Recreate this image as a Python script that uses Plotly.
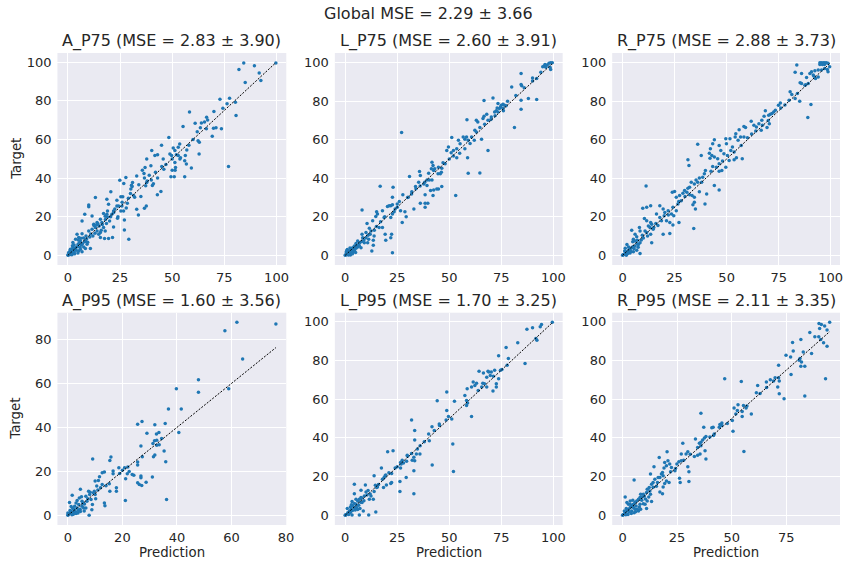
import plotly.graph_objects as go

FIG_TITLE = "Global MSE = 2.29 ± 3.66"
PANEL_NAMES = ["A_P75", "L_P75", "R_P75", "A_P95", "L_P95", "R_P95"]
PANEL_MSE = ["2.83 ± 3.90", "2.60 ± 3.91", "2.88 ± 3.73",
             "1.60 ± 3.56", "1.70 ± 3.25", "2.11 ± 3.35"]
X_LABEL = "Prediction"
Y_LABEL = "Target"

# (prediction, target) pairs
A_P75 = [
    (99.7, 99.5), (84.3, 99.5), (89.4, 98.1), (82, 96.2), (91.7, 94.3), (92.5, 90.5), (85, 89.4),
    (72.9, 80.8), (77.5, 81.3), (76.3, 78.4), (80.3, 79.2), (74.3, 76.1), (80.6, 72.3), (70, 74.4),
    (58.3, 74.2), (66.5, 71.5), (67, 70), (65.5, 69), (64, 68.5), (61, 68.3), (63.5, 66), (66.4, 65.5),
    (69.8, 65.7), (73.6, 65.5), (69.2, 61.6), (71, 66), (62.4, 59.3), (63, 58.5), (62.9, 52.4),
    (55.2, 66.6), (48.4, 61), (44.9, 57), (53.6, 57.6), (52.9, 55.9), (50.5, 55.5), (51.3, 54.2),
    (48.9, 52.4), (49.7, 51.6), (52, 52), (52.9, 51.6), (50, 49.8), (53.7, 49.8), (56.3, 51.6),
    (56, 49), (56.8, 47.2), (59.2, 45.2), (77, 46), (56, 40.7), (49.4, 40.7), (51, 40.7), (50, 44),
    (51.4, 44), (51.6, 45.5), (51.3, 48), (45.7, 49.8), (40.2, 54.2), (41.7, 51.6), (43, 52),
    (37.8, 49.8), (39.8, 46.4), (35.7, 44), (37, 45.5), (36.5, 42.4), (36.7, 40), (37.8, 37.7),
    (40.5, 36.2), (37.3, 36), (44.6, 33), (42.9, 31.3), (37.6, 25.6), (36.7, 24.4), (33, 23.9),
    (33.8, 20.9), (30.5, 36.3), (30.8, 35.6), (30.2, 34.3), (31, 37.7), (27.8, 40.3), (24.9, 38.9),
    (26.8, 37.2), (25.4, 30.3), (26.3, 30.3), (23.5, 28.5), (23.5, 25.6), (24.3, 25.6), (25.9, 25.6),
    (25.4, 23), (26.7, 23), (27.1, 18.3), (27.1, 13.1), (29.2, 8.3), (19.5, 26.5), (19, 23),
    (18.7, 21.3), (21.1, 21.3), (21.9, 23), (21.9, 14.7), (21.4, 9.2), (23.8, 19.2), (20, 17.8),
    (20.6, 32.9), (18.7, 29), (13.2, 29.9), (10, 26.1), (10, 25.1), (8.1, 21.3), (6.8, 17.8),
    (11.6, 20.4), (14, 17), (14.4, 16.4), (12.4, 16.1), (15.6, 18.7), (17.1, 21.6), (17.9, 20.2),
    (16.3, 17), (17.1, 14.4), (17.9, 12.6), (15.6, 9.2), (17.6, 8.7), (19.5, 8.7), (10.8, 3.6),
    (8.4, 7.4), (8.7, 10), (6.8, 11.2), (10, 12.6), (13.2, 14.4), (11.6, 13.5), (14, 12.6),
    (14.8, 10.9), (15.6, 11.8), (4.4, 10.9), (5.2, 9.2), (6, 7.4), (3.7, 8.3), (2.4, 6.6), (3, 5.4),
    (3.7, 4), (4.9, 5.7), (6.5, 5.4), (7.6, 4.3), (8.4, 3.6), (9.2, 5.7), (2.1, 3.1), (1, 2.2),
    (1.3, 1.4), (0.5, 0.5), (1.7, 0.9), (2.9, 1.9), (4, 2.6), (5.2, 2.2), (6, 3.1), (6.8, 1.9),
    (2.4, 4), (0, 0.2), (0.2, 0), (12.5, 15.5), (13.8, 15.8), (15, 15.2), (16.5, 16), (18, 18.5),
    (19, 19.8), (20.5, 20), (22, 22.2), (7.5, 9), (9, 8.5), (10.5, 9.5), (11, 11), (5.5, 6.5),
    (4.5, 4.5), (3.5, 3), (2.8, 2.5), (1.5, 1.8), (0.8, 1.2), (1.9, 0.3), (3.2, 0.8), (4.8, 1.2),
    (7, 6), (8, 7), (9.5, 6.8), (12, 10), (13, 11.5), (16, 13), (18.5, 16.5), (6.2, 8.8), (5, 8),
    (30, 32), (32, 30), (34, 36.5), (28.5, 27), (29, 29.5), (22.5, 24), (24, 20), (33, 41),
    (40, 39), (42, 43), (45, 46), (47, 47), (38, 38.5), (43, 40), (41, 37), (60, 60), (58, 57),
    (62, 64), (57, 54.5), (46, 44.5), (54, 50.5), (35, 30.5), (39, 41.5), (31.5, 31), (26, 27.5),
    (28, 24.5), (3, 1.2), (5.8, 4.2), (1.2, 3.2), (2.2, 5), (0.4, 1.5), (1.1, 0.4), (2.5, 1.2),
]

L_P75 = [
    (95.6, 98.3), (97.1, 98.8), (97.9, 99.7), (98.7, 100), (99.5, 100), (96.4, 97.6), (98.4, 97.6),
    (98.7, 96.5), (94.9, 97.9), (96, 99), (92, 91.8), (90, 92), (84.5, 94.4), (84.5, 88.7),
    (84.8, 88), (80, 87.3), (88, 81.4), (92, 80.9), (84.5, 80.5), (84.5, 75.8), (81.3, 66.3),
    (71, 81.7), (66.7, 80.3), (73.4, 78.8), (75, 77.9), (75.8, 78.4), (76.5, 77.9), (77.3, 77.6),
    (74.6, 77), (73, 76.5), (74.1, 76.2), (75.8, 76.2), (72.6, 75), (73.4, 74.4), (71.8, 74.4),
    (70.2, 71.8), (68.6, 70.1), (66.7, 72.2), (66.2, 71), (68, 73.2), (63, 70.1), (63.7, 69.2),
    (64.7, 66.3), (58.5, 70.4), (62.3, 64.9), (60.7, 61.4), (62, 59.7), (65.5, 60.2), (68.6, 54.4),
    (58.3, 61.4), (59.1, 59.7), (57.5, 60.2), (56.7, 61.4), (51.2, 61.2), (54.4, 59.7), (55.2, 57.9),
    (57.5, 55.3), (58.8, 50.6), (53.6, 55.3), (52, 54.4), (49.6, 56.2), (50.9, 53.2), (53.6, 50.6),
    (48.8, 54.4), (48, 47.5), (44.8, 45.7), (46.4, 45.2), (41.7, 48.3), (42.2, 46.6), (41.4, 44.9),
    (42.5, 44), (44.6, 42.3), (45.7, 42.3), (46.2, 43.1), (59.1, 42.6), (64.7, 42.8), (53.1, 31),
    (40.1, 42.6), (35.7, 43.5), (36.1, 41.4), (39.3, 39.1), (40.4, 39.1), (41.7, 39.1), (38.2, 37.9),
    (37.8, 37), (35.3, 37.9), (33.8, 35.7), (39.3, 36.2), (46.4, 35.7), (44, 34.4), (44.8, 34.4),
    (42.5, 33.9), (41, 33.6), (42.2, 31), (38.4, 31.5), (36.1, 27), (38.4, 27), (39.7, 27),
    (38.4, 24.9), (31.9, 31.8), (30.9, 40.9), (30.3, 30.1), (27.7, 31.5), (33, 24), (27.1, 63.7),
    (16.8, 35.8), (23, 35.3), (22.7, 30.1), (21.9, 25.7), (20.3, 25.4), (21.1, 25.7), (22.7, 26.3),
    (23.5, 22.6), (25, 26.6), (26.6, 23.1), (28.7, 22.6), (29.3, 20), (27.4, 17), (22.7, 21.4),
    (21.9, 19.7), (18.7, 19.7), (17.9, 23.1), (15.1, 22.6), (15.5, 21.4), (14.7, 20.2), (8.1, 23.5),
    (10.5, 16.5), (13.2, 17.9), (16.3, 14.4), (17.9, 14.4), (19.2, 11), (19.5, 7.8), (22.3, 11),
    (21.9, 9.2), (22.7, 1.4), (11.6, 14.1), (12.4, 12.7), (10, 11.8), (13.9, 10.1), (13.5, 7.8),
    (13.5, 5.2), (12.8, 2.3), (10.8, 6.6), (8.4, 9.2), (8.1, 11), (6, 7.5), (6.5, 5.4), (7.6, 4),
    (5.2, 6.1), (4.4, 4.9), (3.6, 4), (2.9, 3.1), (2.1, 2.3), (1.3, 1.4), (0.5, 0.5), (0.2, 0.2),
    (1, 3.1), (2.9, 1.2), (3.6, 1.9), (4.4, 2.6), (5.2, 3.7), (6, 4.3), (6.8, 4.9), (1.7, 0.5),
    (2.5, 0.2), (0, 0), (0.5, 1.7), (9.2, 6.6), (10, 9.2), (11.3, 8.3), (30, 30), (32, 33),
    (34, 34.5), (36, 36), (25, 25), (26, 28), (24, 24), (19, 20), (17, 17.5), (15, 15), (14, 13),
    (12, 11), (9, 8), (7, 6.5), (5.5, 5), (3, 2.5), (2, 1.5), (1, 0.8), (4, 3.5), (8, 7.2),
    (11, 10.5), (50, 50), (52, 51.5), (55, 53), (47, 48), (43, 45), (60, 58), (63, 64), (67, 68),
    (70, 70.5), (78, 80), (82, 83), (86, 87), (90, 90.5), (94, 95), (76, 75), (72, 72.5),
    (1.5, 0.2), (3.5, 0.8), (5, 1.5), (0.8, 2.5), (2.3, 3.8),
]

R_P75 = [
    (94.8, 100), (95.5, 100), (96.4, 100), (97.1, 100), (97.9, 100), (98.7, 99.7), (94.8, 99),
    (96, 99), (97, 99), (99.5, 97.9), (94, 96.2), (95.6, 96.2), (97.1, 97), (98.4, 96.5),
    (98.7, 95.3), (92.4, 95.8), (90.8, 95.3), (90, 94.4), (86, 94.4), (83.7, 98.8), (82.9, 95),
    (91.6, 93.6), (92.7, 91.8), (94, 92.5), (88.4, 92.3), (86, 89.2), (87.6, 88.3), (89.2, 89.2),
    (85.3, 89.6), (80.5, 84.9), (81.3, 83.5), (84, 84), (85.1, 80), (90.5, 78.3), (89, 71.5),
    (82.9, 81.4), (75.8, 79.1), (74.9, 77.9), (73.4, 75.3), (72.6, 74.4), (71.8, 73.6), (71, 73.2),
    (70.2, 72.7), (68.6, 75), (68, 72.2), (66.9, 70.1), (65.5, 68.3), (64.3, 66.6), (67.2, 67.5),
    (66.6, 64.9), (69.4, 66.3), (70.5, 68.3), (63.1, 67.5), (61.8, 69.6), (59.1, 66.3), (58.3, 66.9),
    (56, 65.2), (54.4, 63.1), (54.1, 61.4), (55.5, 59.7), (56.7, 61.4), (58.3, 61.4), (51.6, 60.5),
    (49.6, 60.5), (49.9, 57.9), (52.8, 56.2), (52, 54.4), (53.6, 53.6), (54.7, 50.6), (57.5, 50.1),
    (53.6, 49.6), (51.2, 49.2), (50.4, 51.8), (48.7, 52.7), (47.2, 54.4), (46.4, 57), (44.1, 60),
    (43.3, 57.9), (42.2, 55.3), (41.7, 53), (42.9, 51.8), (44.1, 51), (42, 50.4), (45.7, 50.1),
    (46.4, 47.5), (45.1, 45.7), (43.3, 46.1), (42.5, 43.7), (46.4, 43.7), (47.7, 44), (49.6, 45.7),
    (36.1, 57.6), (37.8, 51.8), (31.4, 49.6), (31.9, 46.6), (39.8, 44), (39.3, 42.3), (38.5, 40.5),
    (36.9, 40.2), (35.3, 39.1), (36.1, 37.9), (34.5, 37), (33, 37.9), (32.2, 35.3), (31.4, 34.8),
    (29.8, 33.6), (29, 32.2), (30.9, 32.7), (32.2, 31.5), (33.4, 31), (34.5, 30.1), (36.9, 33),
    (40.4, 31.8), (44.1, 36.2), (46.4, 33.9), (39.6, 26.6), (34.5, 27.5), (33.8, 26.3), (35, 24),
    (34.2, 13.9), (25, 33.2), (23.9, 32.7), (25.8, 30.1), (27.4, 31), (28.2, 28.3), (26.6, 26.6),
    (24.2, 24.9), (25.8, 23.1), (24.6, 20.5), (23.5, 21.4), (21.9, 23.1), (20.3, 22.3), (19.5, 24),
    (17.9, 25.7), (16.3, 21.4), (17.9, 19.7), (18.7, 17.9), (21.1, 17.9), (22.7, 17), (24.2, 15.7),
    (27.1, 17), (19.5, 11), (22.7, 11.3), (11.3, 36), (9.7, 24.5), (11.6, 24.9), (13.5, 25.7),
    (10.5, 19.1), (11.6, 17.9), (13.5, 17), (14, 16.2), (12.4, 15.3), (13.2, 14.4), (14.7, 13.6),
    (10.8, 12.7), (11.6, 11.8), (13.5, 11), (14, 6.6), (8.1, 14.4), (8.4, 12.7), (4.4, 13), (6, 11),
    (6.8, 9.6), (5.2, 8.3), (4.9, 7), (6, 7.5), (7.1, 7.8), (7.6, 5.7), (8.4, 6.6), (6, 4.9),
    (4.4, 4), (3.6, 3.1), (2.9, 2.3), (2.1, 1.4), (1.3, 0.9), (0.5, 0.5), (0.2, 0.2), (2.1, 5.7),
    (2.9, 4.3), (1.3, 3.7), (8.4, 1), (6.8, 2.6), (5.2, 1.9), (3.6, 1.2), (1, 2.3), (0, 0), (1.8, 0),
    (60, 61), (62, 63), (64, 64.5), (76, 76.5), (78, 78), (88, 88.5), (57, 57), (48, 49), (38, 38),
    (30, 30.5), (27, 28), (20, 20.5), (16, 16.5), (15, 14.5), (12, 10), (10, 9), (9, 8), (7, 6),
    (5, 4.5), (3, 2.8), (2.5, 1), (1.5, 2), (4, 2), (5.5, 3.5), (7.5, 4.2), (9.5, 10.5), (17, 15.5),
    (22, 21), (70, 70), (80, 80.5), (92, 93),
]

A_P95 = [
    (76.3, 87), (62, 87.8), (57.6, 84), (64.1, 71.1), (47.9, 61.7), (47.9, 56), (39.8, 57.6),
    (59, 57.6), (36.9, 48.4), (41.6, 48.4), (35.7, 41.8), (40.7, 37.7), (25.6, 41.5), (27.2, 42.7),
    (31.9, 41.2), (29, 37.3), (33.4, 37.7), (32.5, 37), (34.4, 35), (31.8, 33.9), (32.6, 34.2),
    (31.2, 32.7), (32.6, 31.9), (33.5, 32.1), (26.8, 31.6), (35.3, 29.3), (31.9, 27.5), (31.4, 26.7),
    (27.3, 26.7), (25.6, 24.3), (25.6, 22.9), (35.9, 24.4), (24.2, 18.2), (26.8, 17.9), (26.8, 17.1),
    (28.7, 15.1), (26.2, 14), (27.1, 13.6), (25.6, 14.8), (31, 17.4), (21.2, 16.6), (23.6, 18.6),
    (20.8, 21.7), (22, 22), (21.8, 18.9), (18.7, 21.7), (16.6, 20.2), (16.6, 18.9), (15.8, 26.6),
    (15.4, 25), (12.6, 19.4), (13.4, 19.7), (11.6, 17.6), (11.2, 15.9), (10, 15.6), (10.6, 13.3),
    (12.6, 14), (15.4, 11), (17.8, 12.5), (17.8, 11), (15.2, 14.4), (13.4, 5.6), (13.6, 4.4),
    (21.1, 6.7), (36.2, 7.2), (9.1, 25.6), (9.7, 11), (10, 9.5), (9.4, 10.2), (7.6, 11), (6.6, 8.7),
    (7.3, 7.6), (8.5, 7.2), (8.8, 2.6), (7.8, 0), (6.1, 5.2), (5.2, 6.4), (4.6, 11.9), (4.2, 7.9),
    (3.4, 6.7), (4, 4.9), (5.2, 4.1), (5.8, 3.4), (6.6, 3.4), (3, 5.6), (2.5, 4.1), (1.8, 3.1),
    (0.6, 5.8), (1.6, 9.2), (1.3, 1.8), (2.2, 1.5), (1, 1.1), (0.4, 0.6), (0.1, 0.3), (2.8, 1.5),
    (3.7, 1.1), (4.6, 1.8), (2.5, 2.6), (3.4, 3.4), (0, 1.1), (0, 0), (7, 6.4), (9, 4.9), (10.2, 7.6),
    (2, 0.5), (3, 0.8), (1.5, 0.3), (4.5, 2.8), (5.5, 5.5), (6, 2), (8, 9.5), (11, 11.5), (12, 12.5),
    (14, 13.5), (19, 19), (20, 20.5), (22.5, 20), (3.8, 2.2), (0.8, 2.2), (1.2, 4), (8.2, 10.5),
    (5, 8.5),
]

L_P95 = [
    (99.5, 99.7), (94.3, 98.6), (93.7, 97.4), (90, 96.9), (87.3, 96.2), (91.6, 91.3), (92.1, 90.5),
    (82.9, 89.1), (77.3, 86.7), (73.7, 82.4), (78.4, 81), (77.8, 77.5), (86.4, 78.4), (75.3, 75.4),
    (74.6, 74.9), (71.8, 74.9), (70.2, 74), (69, 74), (68.6, 74.4), (64.3, 74.4), (69.7, 72.3),
    (71.2, 71.8), (73.7, 70.6), (68, 71.4), (66.4, 73.5), (66.1, 68.3), (66.9, 68), (68, 66.3),
    (65.6, 66.3), (63.9, 64.5), (62.3, 67.1), (61.5, 68.9), (63.1, 68.3), (60.7, 66.3), (58.6, 65.4),
    (72.6, 68), (72.6, 66.3), (71, 64.2), (57.5, 61.9), (58.3, 59.3), (58.8, 58), (58.3, 56.8),
    (52.5, 59), (48.8, 63.7), (44.2, 59.2), (48.8, 54.2), (49.6, 51), (51.2, 49.8), (48.5, 49.3),
    (60.7, 51), (45.2, 47.2), (45.3, 46.4), (42.8, 43.8), (41.7, 45.8), (40.1, 42), (40.4, 38.6),
    (33.4, 43.8), (31.9, 49.3), (33.4, 38.9), (51.7, 36.9), (52, 22.7), (41.8, 26), (34.7, 34.3),
    (35.9, 31.7), (34.2, 31.7), (33, 30), (32.2, 28.5), (33.4, 28.2), (31.9, 32), (29.8, 31.1),
    (29.5, 27.9), (33, 23), (27.4, 28.5), (26.6, 27.3), (26.9, 26.5), (25, 25.1), (26.6, 24.4),
    (26.3, 17.5), (26.3, 12.3), (29.3, 19.6), (33, 11.2), (23, 33.4), (20.4, 32.9), (22.3, 21.6),
    (22.3, 17), (21.9, 16.4), (19.5, 20.8), (19.2, 20.4), (18.7, 19.6), (17.9, 18.7), (17.4, 24.4),
    (18.4, 14.4), (19.8, 15.7), (15.5, 14.7), (15.1, 14.4), (13.9, 20.4), (13.9, 12.3), (11.6, 8.3),
    (13.5, 8.3), (12.4, 10), (10, 12.1), (9.7, 15.7), (7.6, 13), (9.2, 10), (7.6, 9.2), (6.8, 8.3),
    (5.2, 8.3), (4.4, 16.1), (4.4, 11.2), (6, 7.4), (5.2, 5.7), (4.4, 4), (6.5, 5.2), (8.1, 6.6),
    (8.7, 2.2), (11.3, 0.2), (14.7, 1.7), (6.8, 0.2), (3.3, 0.2), (2.9, 3.1), (2.1, 2.2), (2.5, 4.3),
    (1.3, 1.4), (0.5, 0.5), (0.2, 0.2), (1, 3.6), (3.6, 4.8), (4.4, 6.1), (3.3, 7.1), (1.7, 0.5),
    (0, 0), (5.5, 4), (7.1, 3.6), (8, 9), (9, 7.5), (10.5, 10.5), (12, 11), (14.5, 15.5), (16, 16),
    (21, 22), (24, 24.5), (28, 27), (30, 30.5), (36, 36), (38, 38), (1.5, 1), (2.5, 1.5),
    (3.5, 2.5), (4.8, 2.8), (6, 3), (3, 5.5), (7.5, 6.8), (11, 12.8),
]

R_P95 = [
    (94.9, 99.7), (90, 99.1), (91.1, 98.6), (92.6, 97.8), (90.3, 96.5), (93.7, 95.7), (85.8, 94.5),
    (88.1, 92.2), (89.9, 92.2), (90.8, 90.8), (92.1, 89.1), (93.7, 87.4), (81.7, 90.8), (77.9, 89.3),
    (78.2, 84.9), (82.8, 84.4), (86.6, 83.6), (81.3, 81), (80.9, 80.1), (82, 79.2), (81.7, 77),
    (83.5, 77), (77, 81.8), (74.9, 82.7), (77.2, 72.8), (71.5, 77.5), (69.9, 71.1), (67.7, 70.1),
    (65.9, 68.9), (69.2, 69.4), (71.5, 71.1), (71.8, 69.4), (71.1, 66.3), (71.8, 62.8), (74, 60.2),
    (83.5, 61.6), (93, 70.6), (61.3, 63.3), (61.9, 67.1), (46.8, 70.6), (54.4, 69.2), (52.9, 57.1),
    (51.1, 55.4), (52.6, 54.2), (55.4, 56.7), (56.6, 55.5), (54.8, 53.6), (54.8, 51), (51.9, 52.4),
    (59, 52.4), (50.3, 49), (50.6, 43.4), (55.6, 33), (45.5, 46.4), (44.6, 46.9), (45.5, 47.7),
    (44.3, 45.5), (41.5, 45.5), (40.9, 45.2), (41.7, 41.2), (38.2, 40.7), (37.5, 40), (36.7, 38.9),
    (35.9, 37.7), (35.2, 37.2), (34.4, 35.1), (35.9, 36), (37.8, 33.4), (38.2, 29.1), (35.5, 31.7),
    (34.4, 31.1), (33.4, 39.4), (35.9, 52.8), (37.2, 45.5), (27.6, 37.2), (32.9, 30.4), (29.9, 32.9),
    (29.1, 31.7), (26.9, 31.7), (29.9, 25.1), (30.4, 22.5), (30.4, 17.5), (25.8, 27.7), (24.9, 26.5),
    (26.9, 28.2), (24.3, 24.2), (26.1, 19.2), (26.4, 17), (20.4, 32.9), (16.8, 29.9), (19.3, 27.3),
    (20.8, 28.2), (21.6, 26.5), (22.4, 24.7), (20.1, 25.6), (19, 24.4), (18.3, 22.1), (17.8, 21.3),
    (18.6, 20.4), (17.1, 19.6), (16.3, 19.6), (20.1, 17.8), (21.3, 17), (19.3, 16.4), (18.6, 14.7),
    (17.1, 12.1), (18.3, 11.2), (14.4, 25.1), (12.8, 21.3), (14.8, 18.7), (14, 17), (13.3, 16.1),
    (12.2, 14.4), (11.3, 13.5), (12.5, 12.6), (11, 11.8), (12.8, 10.9), (9.5, 10.9), (8.3, 10.9),
    (8, 9.2), (7.3, 8.3), (6.5, 7.4), (5.7, 6.6), (5, 5.7), (8.8, 7.8), (11.3, 7.4), (13.3, 7.1),
    (10.3, 5.7), (11, 3.6), (8.3, 3.1), (7.7, 4.3), (6.8, 3.1), (5.3, 18.2), (1.2, 9.5), (2, 6.6),
    (3.5, 5.7), (4.2, 4.8), (5, 4), (3.5, 4), (2.7, 3.1), (2, 2.2), (1.2, 1.4), (0.5, 0.5),
    (0.2, 0.2), (1.7, 3.6), (3, 1.9), (4.2, 2.2), (5.7, 3.1), (6.2, 4.8), (4.7, 7.8), (3.5, 7.4),
    (2.7, 5.7), (0, 0), (0.8, 2.2), (8, 5.7), (7.3, 2.2), (5.3, 1.4), (10, 10), (9, 9.5),
    (14, 14.5), (15.5, 15), (16, 17), (22, 22.5), (24, 23), (28, 28.5), (31, 31.5), (40, 40.5),
    (42, 42), (48, 47.5), (57, 56.5), (63, 63), (66, 66), (2.5, 0.5), (1.5, 0.3), (4, 1), (6, 1.8),
    (9.5, 6), (10.5, 8.5), (12, 9.5),
]

PANEL_DATA = [A_P75, L_P75, R_P75, A_P95, L_P95, R_P95]
X_TICKS = [[0, 25, 50, 75, 100], [0, 25, 50, 75, 100], [0, 25, 50, 75, 100],
           [0, 20, 40, 60, 80], [0, 25, 50, 75, 100], [0, 25, 50, 75]]
Y_TICKS = [[0, 20, 40, 60, 80, 100]] * 3 + [[0, 20, 40, 60, 80], [0, 20, 40, 60, 80, 100],
                                            [0, 20, 40, 60, 80, 100]]

# ---- layout geometry (pixels of an 852 x 564 canvas) ----
W, H = 852, 564
COL_PX = [(58, 289), (338, 568), (618, 848)]
ROW_PX = [(53, 265), (312.7, 525)]
BG = "#EAEAF2"
TXT = "#262626"
FONT = "DejaVu Sans"
DOT = "#1f77b4"

fig = go.Figure()
layout = dict(
    width=W, height=H, margin=dict(l=0, r=0, t=0, b=0),
    paper_bgcolor="white", plot_bgcolor=BG, showlegend=False,
    font=dict(family=FONT, color=TXT, size=13),
)
annotations = []

for i, (name, mse, pts) in enumerate(zip(PANEL_NAMES, PANEL_MSE, PANEL_DATA)):
    r, c = divmod(i, 3)
    idx = "" if i == 0 else str(i + 1)
    xa, ya = "x" + idx, "y" + idx
    pred = [p for p, t in pts]
    targ = [t for p, t in pts]
    lo, hi = min(pred), max(pred)
    # scatter
    fig.add_trace(go.Scatter(x=pred, y=targ, mode="markers", xaxis=xa, yaxis=ya,
                             marker=dict(color=DOT, size=3.5, line=dict(width=0)),
                             hoverinfo="skip"))
    # identity line
    fig.add_trace(go.Scatter(x=[lo, hi], y=[lo, hi], mode="lines", xaxis=xa, yaxis=ya,
                             line=dict(color="black", width=1.0, dash="2px,1.5px"),
                             hoverinfo="skip"))
    # matplotlib-like 5% margins
    xmin, xmax = min(pred), max(pred)
    ymin, ymax = min(targ + [lo]), max(targ + [hi])
    dx, dy = 0.05 * (xmax - xmin), 0.05 * (ymax - ymin)
    x0, x1 = COL_PX[c]
    y0, y1 = ROW_PX[r]
    axis_common = dict(showgrid=True, gridcolor="white", gridwidth=1.1, zeroline=False,
                       showline=False, ticks="", tickfont=dict(family=FONT, size=13, color=TXT))
    layout["xaxis" + idx] = dict(axis_common, domain=[x0 / W, x1 / W], anchor=ya,
                                 range=[xmin - dx, xmax + dx], tickmode="array",
                                 tickvals=X_TICKS[i], ticklabelstandoff=3)
    layout["yaxis" + idx] = dict(axis_common, domain=[1 - y1 / H, 1 - y0 / H], anchor=xa,
                                 range=[ymin - dy, ymax + dy], tickmode="array",
                                 tickvals=Y_TICKS[i], ticklabelstandoff=5)
    # panel title
    annotations.append(dict(text=f"{name} (MSE = {mse})", x=(x0 + x1) / 2 / W,
                            y=1 - (y0 - 12) / H, xref="paper", yref="paper",
                            xanchor="center", yanchor="middle", showarrow=False,
                            font=dict(family=FONT, size=16, color=TXT)))
    if c == 0:
        annotations.append(dict(text=Y_LABEL, x=16 / W, y=1 - (y0 + y1) / 2 / H,
                                xref="paper", yref="paper", textangle=-90,
                                xanchor="center", yanchor="middle", showarrow=False,
                                font=dict(family=FONT, size=13.3, color=TXT)))
    if r == 1:
        annotations.append(dict(text=X_LABEL, x=(x0 + x1) / 2 / W, y=1 - 552.5 / H,
                                xref="paper", yref="paper", xanchor="center",
                                yanchor="middle", showarrow=False,
                                font=dict(family=FONT, size=13.3, color=TXT)))

annotations.append(dict(text=FIG_TITLE, x=433 / W, y=1 - 13.5 / H, xref="paper", yref="paper",
                        xanchor="center", yanchor="middle", showarrow=False,
                        font=dict(family=FONT, size=16, color=TXT)))
layout["annotations"] = annotations
fig.update_layout(**layout)
fig.write_html("out.html")
